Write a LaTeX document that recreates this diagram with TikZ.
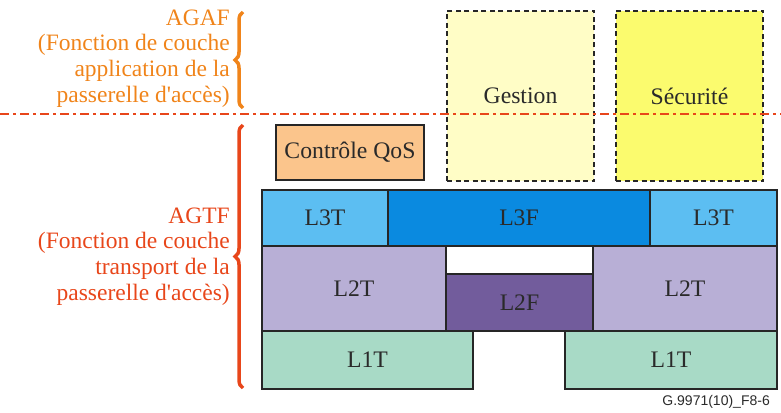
\documentclass[tikz,border=0pt]{standalone}
\usepackage{fontspec}
\setmainfont{Liberation Serif}
\newfontfamily\figserif{Liberation Serif}
\newfontfamily\figsans{Liberation Sans}
\usetikzlibrary{decorations.pathreplacing}

\definecolor{agafcol}{HTML}{F0841A}
\definecolor{agtfcol}{HTML}{E8461A}
\definecolor{edgegray}{HTML}{262626}
\definecolor{textgray}{HTML}{2A2A2A}
\definecolor{qoscol}{HTML}{FBC58C}
\definecolor{gestcol}{HTML}{FFFDC6}
\definecolor{securcol}{HTML}{FBFB6E}
\definecolor{lthreet}{HTML}{5CBEF2}
\definecolor{lthreef}{HTML}{0A8AE0}
\definecolor{ltwot}{HTML}{B8AFD6}
\definecolor{ltwof}{HTML}{725C9C}
\definecolor{lonet}{HTML}{A8DAC6}

\newcommand{\apos}{\textquotesingle}

\begin{document}
\begin{tikzpicture}[x=1pt,y=-1pt,
  blk/.style={draw=edgegray, line width=2pt, anchor=north west,
    inner sep=0pt, outer sep=0pt, text=textgray,
    font=\figserif\fontsize{23.7}{26}\selectfont},
  size/.style 2 args={minimum width=#1pt, minimum height=#2pt},
  dashblk/.style={blk, dash pattern=on 5pt off 3.5pt},
  sidetext/.style={anchor=east, align=right, inner sep=0pt,
    font=\figserif\fontsize{23.5}{25.7}\selectfont},
  sidebrace/.style={line width=3.5pt,
    decorate, decoration={brace, amplitude=8pt}},
  separator/.style={draw=agtfcol, line width=2.6pt,
    dash pattern=on 9pt off 4pt on 3pt off 4pt}]

\useasboundingbox (0,0) rectangle (781,412);

% management and security functions spanning both layers
\node[dashblk, size={147}{170}, fill=gestcol] (gest) at (447,11) {Gestion};
\node[dashblk, size={147}{170}, fill=securcol] (secu) at (616,11) {Sécurité};

% separator between application and transport layers
\coordinate (sepL) at (0,114);
\coordinate (sepR) at (781,114);
\draw[separator] (sepL) -- (sepR);

% QoS control
\node[blk, size={148}{55}, fill=qoscol] (qos) at (276,125) {Contrôle QoS};

% layer 3
\node[blk, size={126}{56}, fill=lthreet] (l3tl) at (262,190) {L3T};
\node[blk, size={262}{56}, fill=lthreef] (l3f)  at (388,190) {L3F};
\node[blk, size={127}{56}, fill=lthreet] (l3tr) at (650,190) {L3T};

% layer 2
\node[blk, size={184}{85}, fill=ltwot] (l2tl) at (262,246) {L2T};
\node[blk, size={147}{28}, fill=white] (l2gap) at (446,246) {};
\node[blk, size={147}{57}, fill=ltwof] (l2f)  at (446,274) {L2F};
\node[blk, size={184}{85}, fill=ltwot] (l2tr) at (593,246) {L2T};

% layer 1
\node[blk, size={211}{58}, fill=lonet] (l1tl) at (262,331) {L1T};
\node[blk, size={212}{58}, fill=lonet] (l1tr) at (565,331) {L1T};

% side labels with braces
\node[sidetext, text=agafcol] (agaf) at (230,58.5)
  {AGAF\hspace{7pt}\\(Fonction de couche\\application de la\\passerelle d\apos accès)};
\node[sidetext, text=agtfcol] (agtf) at (230,256.5)
  {AGTF\hspace{7pt}\\(Fonction de couche\\transport de la\\passerelle d\apos accès)};

\coordinate (agafB) at (243,108);
\coordinate (agafT) at (243,12);
\coordinate (agtfB) at (243,388);
\coordinate (agtfT) at (243,125);
\draw[sidebrace, draw=agafcol] (agafB) -- (agafT);
\draw[sidebrace, draw=agtfcol] (agtfB) -- (agtfT);

% figure reference
\node[anchor=east, inner sep=0pt, text=textgray,
  font=\figsans\fontsize{14}{16}\selectfont] (figref) at (770,402)
  {G.9971(10)\_F8-6};

\end{tikzpicture}
\end{document}
